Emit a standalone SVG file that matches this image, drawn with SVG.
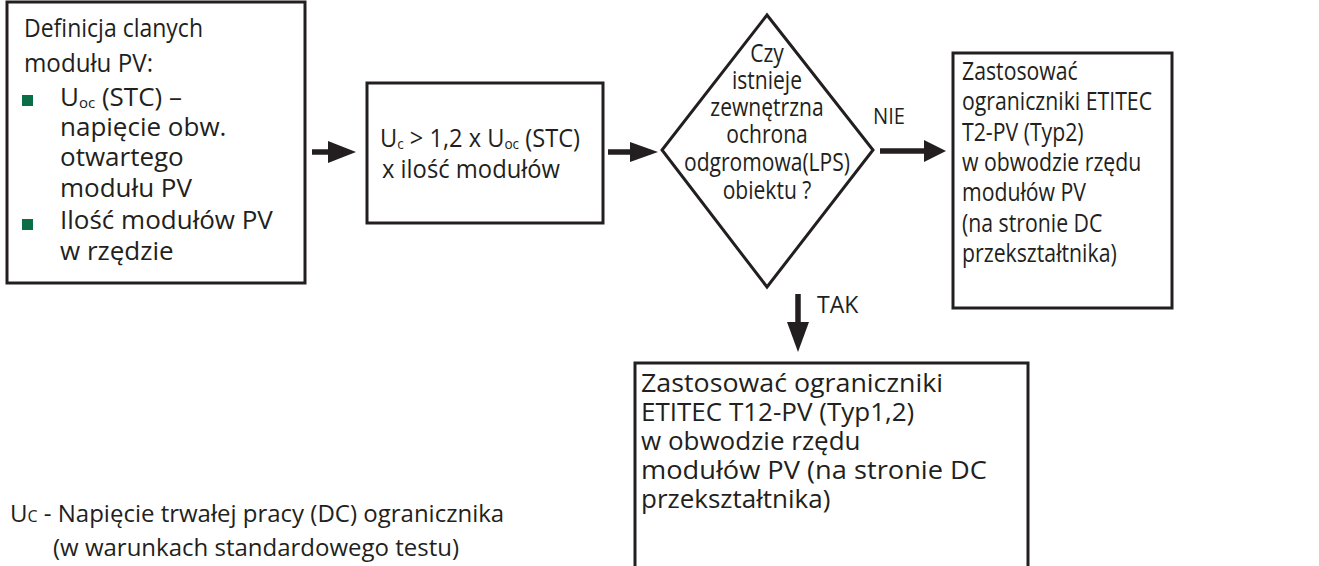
<svg xmlns="http://www.w3.org/2000/svg" width="1319" height="566" viewBox="0 0 1319 566">
<defs>
<style>
.box{fill:#fff;stroke:#231f20;stroke-width:3}
.t{font-family:"Open Sans","Noto Sans",sans-serif;fill:#231f20}
.f26{font-size:26px}
.f27{font-size:27px}
.f25{font-size:25px}
.f24{font-size:24px}
.c{text-anchor:middle}
.sub{font-size:15px}
.conn{stroke:#231f20;stroke-width:5.5;fill:none}
.head{fill:#231f20}
.bullet{fill:#0a6e47}
</style>
</defs>
<rect width="1319" height="566" fill="#fff"/>
<g id="connectors">
<line class="conn" x1="312" y1="152" x2="330" y2="152"/><polygon class="head" points="328,141 356,152 328,163"/>
<line class="conn" x1="608" y1="152" x2="632" y2="152"/><polygon class="head" points="630,142 658,152 630,162"/>
<line class="conn" x1="880" y1="151" x2="927" y2="151"/><polygon class="head" points="924,140 946,151 924,162"/>
<line class="conn" x1="798" y1="294" x2="798" y2="324"/><polygon class="head" points="787,322 798,352 809,322"/>
<text class="t" font-size="22" x="873" y="124" textLength="32" lengthAdjust="spacingAndGlyphs">NIE</text>
<text class="t" font-size="23" x="817" y="313">TAK</text>
</g>
<g id="n1">
<rect class="box" x="7" y="2" width="298" height="281"/>
<text class="t f25" x="24" y="37" textLength="179" lengthAdjust="spacingAndGlyphs">Definicja clanych</text>
<text class="t f25" x="24" y="72" textLength="129" lengthAdjust="spacingAndGlyphs">modułu PV:</text>
<rect class="bullet" x="22" y="95" width="11" height="11"/>
<text class="t f26" x="60" y="106">U<tspan class="sub" dy="2">oc</tspan><tspan dy="-2"> (STC) –</tspan></text>
<text class="t f26" x="60" y="136">napięcie obw.</text>
<text class="t f26" x="60" y="166">otwartego</text>
<text class="t f26" x="60" y="197">modułu PV</text>
<rect class="bullet" x="22" y="219" width="11" height="11"/>
<text class="t f26" x="60" y="229">Ilość modułów PV</text>
<text class="t f26" x="60" y="260">w rzędzie</text>
</g>
<g id="n2">
<rect class="box" x="367" y="83" width="236" height="140"/>
<text class="t f26" x="380" y="147" textLength="200" lengthAdjust="spacingAndGlyphs">U<tspan class="sub" dy="2">c</tspan><tspan dy="-2"> &gt; 1,2 x U</tspan><tspan class="sub" dy="2">oc</tspan><tspan dy="-2"> (STC)</tspan></text>
<text class="t f26" x="382" y="178" textLength="178" lengthAdjust="spacingAndGlyphs">x ilość modułów</text>
</g>
<g id="n3">
<polygon class="box" points="767,15 873,150 767,287 662,150"/>
<g transform="translate(767,0) scale(0.81,1)">
<text class="t f26 c" x="0" y="62">Czy</text>
<text class="t f26 c" x="0" y="89">istnieje</text>
<text class="t f26 c" x="0" y="116">zewnętrzna</text>
<text class="t f26 c" x="0" y="143">ochrona</text>
<text class="t f26 c" x="0" y="171">odgromowa(LPS)</text>
<text class="t f26 c" x="0" y="199">obiektu ?</text>
</g>
</g>
<g id="n4">
<rect class="box" x="953" y="53" width="219" height="255"/>
<g transform="translate(962,0) scale(0.85,1)">
<text class="t f25" x="0" y="80">Zastosować</text>
<text class="t f25" x="0" y="110">ograniczniki ETITEC</text>
<text class="t f25" x="0" y="141">T2-PV (Typ2)</text>
<text class="t f25" x="0" y="171">w obwodzie rzędu</text>
<text class="t f25" x="0" y="201">modułów PV</text>
<text class="t f25" x="0" y="232">(na stronie DC</text>
<text class="t f25" x="0" y="262">przekształtnika)</text>
</g>
</g>
<g id="n5">
<rect class="box" x="635" y="363" width="393" height="220"/>
<text class="t f26" x="641" y="392" textLength="302" lengthAdjust="spacingAndGlyphs">Zastosować ograniczniki</text>
<text class="t f26" x="641" y="421">ETITEC T12-PV (Typ1,2)</text>
<text class="t f26" x="641" y="450">w obwodzie rzędu</text>
<text class="t f26" x="641" y="479" textLength="346" lengthAdjust="spacingAndGlyphs">modułów PV (na stronie DC</text>
<text class="t f26" x="641" y="508">przekształtnika)</text>
</g>
<g id="note">
<text class="t f24" x="10" y="522">U<tspan font-size="16">C</tspan> - Napięcie trwałej pracy (DC) ogranicznika</text>
<text class="t f24" x="53" y="556">(w warunkach  standardowego testu)</text>
</g>
</svg>
